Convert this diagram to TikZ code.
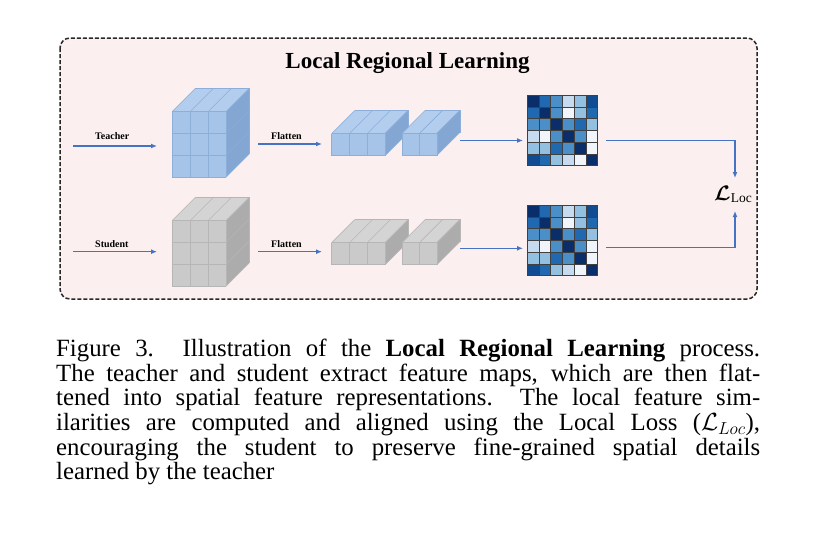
\RequirePackage{fix-cm}
\documentclass[tikz,border=0pt]{standalone}
\usepackage{graphicx}
\usepackage{fontspec}
\setmainfont{Liberation Serif}
\usepackage{bm}
\usetikzlibrary{arrows.meta}
\definecolor{bgpink}{RGB}{251,239,239}
\definecolor{frameline}{RGB}{40,40,40}
\definecolor{arrowblue}{RGB}{68,114,196}
\definecolor{blfront}{RGB}{166,196,232}
\definecolor{bltop}{RGB}{178,205,237}
\definecolor{blside}{RGB}{132,166,210}
\definecolor{blline}{RGB}{140,174,216}
\definecolor{grfront}{RGB}{202,202,202}
\definecolor{grtop}{RGB}{212,212,212}
\definecolor{grside}{RGB}{172,172,172}
\definecolor{grline}{RGB}{182,182,182}
\definecolor{cella}{RGB}{240,245,252}
\definecolor{cellb}{RGB}{198,219,239}
\definecolor{cellc}{RGB}{147,191,224}
\definecolor{celld}{RGB}{74,143,200}
\definecolor{celle}{RGB}{32,104,176}
\definecolor{cellf}{RGB}{17,75,146}
\definecolor{cellg}{RGB}{10,46,106}
\tikzset{
  flow/.style={draw=arrowblue, line width=1.3pt, -{Latex[length=6pt,width=5pt]}},
  smalllabel/.style={font=\bfseries\fontsize{10}{12}\selectfont, inner sep=0pt, anchor=base west},
  captionline/.style={font=\fontsize{24.8}{24.6}\selectfont, inner sep=0pt, anchor=base west},
}
\newcommand\capline[1]{\makebox[704pt][s]{#1}}
% #1 x, #2 y (front top-left), #3 cols, #4 rows, #5 cell w, #6 cell h, #7 depth, #8 colour prefix
\newcommand\featblock[8]{%
  \pgfmathsetmacro\blkW{#3*#5}%
  \pgfmathsetmacro\blkH{#4*#6}%
  \fill[#8top] (#1,#2) -- ++(#7,-#7) -- ++(\blkW,0) -- ++(-#7,#7) -- cycle;
  \fill[#8side] ({#1+\blkW},#2) -- ++(#7,-#7) -- ++(0,\blkH) -- ++(-#7,#7) -- cycle;
  \fill[#8front] (#1,#2) rectangle ++(\blkW,\blkH);
  \foreach \i in {0,...,#3}{\draw[#8line, line width=0.6pt] ({#1+\i*#5},#2) -- ++(0,\blkH);
    \draw[#8line, line width=0.6pt] ({#1+\i*#5},#2) -- ++(#7,-#7);}
  \foreach \j in {0,...,#4}{\draw[#8line, line width=0.6pt] (#1,{#2+\j*#6}) -- ++(\blkW,0);
    \draw[#8line, line width=0.6pt] ({#1+\blkW},{#2+\j*#6}) -- ++(#7,-#7);}
  \draw[#8line, line width=0.6pt] ({#1+#7},{#2-#7}) -- ++(\blkW,0) -- ++(0,\blkH);
}
% #1 x, #2 y of top-left corner
\newcommand\simmatrix[2]{%
  \foreach \row [count=\r] in {{g,e,d,b,c,f},{e,g,d,a,c,e},{d,d,g,d,e,c},{b,a,d,g,d,a},{c,c,e,d,g,a},{f,e,c,b,a,g}}{
    \foreach \v [count=\k] in \row {
      \filldraw[fill=cell\v, draw=black!75, line width=0.5pt]
        ({#1+(\k-1)*11.75},{#2+(\r-1)*11.75}) rectangle ++(11.75,11.75);
    }
  }
}
\begin{document}
\begin{tikzpicture}[x=1pt,y=-1pt]
\useasboundingbox[fill=white] (0,0) rectangle (823,557);
% frame
\draw[fill=bgpink, draw=frameline, line width=1.5pt, dash pattern=on 4pt off 2pt, rounded corners=10pt]
  (60,38) rectangle (757,299);
\node[font=\bfseries\fontsize{23}{27}\selectfont, inner sep=0pt, anchor=base] (title) at (407.5,68.3) {Local Regional Learning};
% teacher row
\featblock{172}{111.7}{3}{3}{18}{21.8}{23}{bl}
\featblock{331.7}{133.5}{3}{1}{17.8}{22}{23}{bl}
\featblock{402}{133.5}{2}{1}{17.4}{22}{23}{bl}
\simmatrix{527}{95}
% student row
\featblock{172}{220.7}{3}{3}{18}{21.8}{23}{gr}
\featblock{331.7}{242.7}{3}{1}{17.8}{22}{23}{gr}
\featblock{402}{242.7}{2}{1}{17.4}{22}{23}{gr}
\simmatrix{527}{205}
% labels
\node[smalllabel] (tlab) at (95,139.3) {Teacher};
\node[smalllabel] (tflat) at (271,139) {Flatten};
\node[smalllabel] (slab) at (95,247.7) {Student};
\node[smalllabel] (sflat) at (271,247.7) {Flatten};
\node[inner sep=0pt, anchor=base west] (loss) at (714,200)
  {\fontsize{21}{24}\selectfont$\bm{\mathcal{L}}$\raisebox{-2.5pt}{\fontsize{13.5}{15}\selectfont Loc}};
% connector coordinates
\coordinate (tA) at (73,146); \coordinate (tB) at (157,146);
\coordinate (tC) at (258,144); \coordinate (tD) at (322,144);
\coordinate (tE) at (460,140.5); \coordinate (tF) at (523,140.5);
\coordinate (tG) at (606,140.5); \coordinate (tH) at (735,178);
\coordinate (sA) at (73,251.7); \coordinate (sB) at (157,251.7);
\coordinate (sC) at (258,251.7); \coordinate (sD) at (322,251.7);
\coordinate (sE) at (460,248.3); \coordinate (sF) at (523,248.3);
\coordinate (sG) at (606,247.5); \coordinate (sH) at (735,211);
\draw[flow] (tA) -- (tB);
\draw[flow] (tC) -- (tD);
\draw[flow] (tE) -- (tF);
\draw[flow] (tG) -| (tH);
\draw[flow] (sA) -- (sB);
\draw[flow] (sC) -- (sD);
\draw[flow] (sE) -- (sF);
\draw[flow] (sG) -| (sH);
% caption
\node[captionline] (cap1) at (56,356.7) {\capline{Figure 3.\ \ Illustration of the \textbf{Local Regional Learning} process.}};
\node[captionline] (cap2) at (56,381.3) {\capline{The teacher and student extract feature maps, which are then flat-}};
\node[captionline] (cap3) at (56,405.9) {\capline{tened into spatial feature representations.\ \ The local feature sim-}};
\node[captionline] (cap4) at (56,430.5) {\capline{ilarities are computed and aligned using the Local Loss ($\mathcal{L}_{Loc}$),}};
\node[captionline] (cap5) at (56,455.1) {\capline{encouraging the student to preserve fine-grained spatial details}};
\node[captionline] (cap6) at (56,479.7) {learned by the teacher};
\end{tikzpicture}
\end{document}
